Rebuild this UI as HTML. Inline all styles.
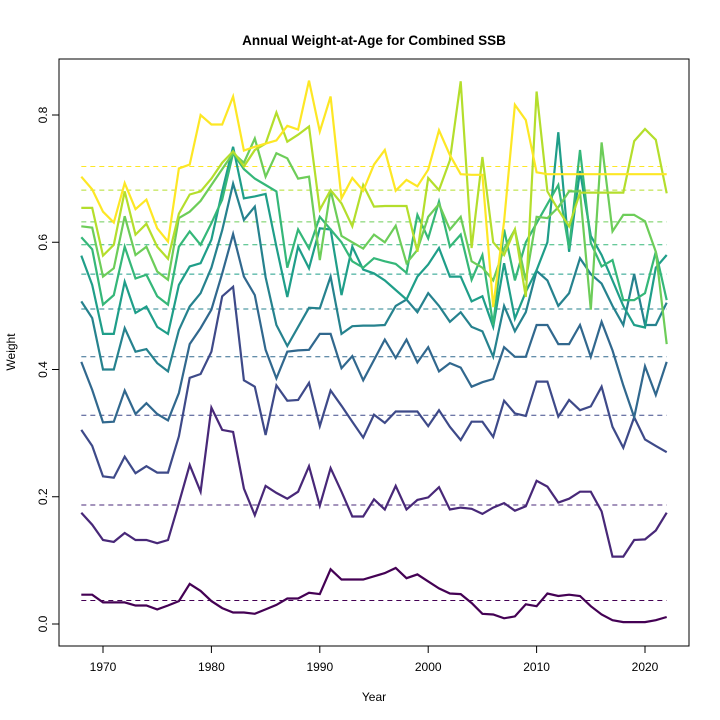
<!DOCTYPE html>
<html><head><meta charset="utf-8">
<style>
html,body{margin:0;padding:0;background:#fff;}
svg{display:block;font-family:"Liberation Sans",Arial,sans-serif;}
</style></head>
<body>
<svg id="chart" width="720" height="720" viewBox="0 0 720 720">
<rect x="0" y="0" width="720" height="720" fill="#fff"/>
<text x="374" y="45" text-anchor="middle" font-size="13.5" font-weight="bold">Annual Weight-at-Age for Combined SSB</text>
<text x="374" y="701" text-anchor="middle" font-size="12">Year</text>
<text transform="translate(15,352) rotate(-90)" text-anchor="middle" font-size="12">Weight</text>
<g id="grid"></g>
<g id="series"></g>
<g id="axes"></g>
<rect x="59" y="59" width="630" height="587" fill="none" stroke="#000" stroke-width="1"/>
</svg>
<script>
const startYear = 1968;
const xTicks = [1970, 1980, 1990, 2000, 2010, 2020];
const yTicks = [0.0, 0.2, 0.4, 0.6, 0.8];
const yTickLabels = ["0.0", "0.2", "0.4", "0.6", "0.8"];
const ageColors = ["#440154","#482878","#3E4A89","#31688E","#26828E","#1F9E89","#35B779","#6DCD59","#B4DE2C","#FDE725"];
const meanValues = [0.037, 0.187, 0.328, 0.420, 0.495, 0.550, 0.596, 0.632, 0.682, 0.719];
const age1 = [.046,.046,.034,.034,.034,.029,.029,.023,.029,.036,.063,.052,.036,.025,.018,.018,.016,.023,.030,.040,.040,.049,.047,.086,.070,.070,.070,.075,.080,.088,.072,.078,.067,.056,.048,.047,.033,.016,.015,.009,.012,.031,.028,.048,.044,.046,.044,.028,.015,.006,.003,.003,.003,.006,.011];
const age2 = [.175,.156,.132,.129,.143,.132,.132,.127,.132,.190,.250,.208,.340,.305,.302,.213,.171,.217,.206,.197,.208,.248,.186,.245,.208,.169,.169,.196,.180,.217,.180,.195,.199,.215,.180,.183,.181,.173,.183,.190,.178,.185,.225,.216,.191,.197,.208,.208,.177,.106,.106,.132,.133,.147,.175];
const age3 = [.305,.280,.232,.230,.263,.237,.248,.238,.238,.295,.387,.393,.428,.515,.530,.383,.373,.297,.375,.351,.352,.379,.311,.367,.343,.318,.293,.329,.316,.334,.334,.334,.311,.336,.310,.289,.318,.318,.294,.351,.331,.327,.381,.381,.326,.352,.336,.342,.373,.310,.277,.325,.290,.280,.270];
const age4 = [.412,.368,.317,.318,.367,.330,.347,.330,.320,.363,.440,.465,.494,.551,.613,.546,.517,.431,.386,.428,.430,.431,.456,.456,.402,.421,.383,.415,.447,.418,.447,.411,.435,.397,.410,.403,.373,.380,.385,.435,.420,.420,.470,.470,.440,.440,.470,.420,.475,.430,.375,.325,.405,.360,.412];
const age5 = [.507,.481,.400,.400,.465,.428,.432,.410,.397,.462,.499,.520,.560,.619,.692,.635,.656,.545,.470,.437,.467,.497,.496,.546,.456,.468,.469,.469,.470,.500,.510,.490,.520,.500,.475,.490,.467,.460,.420,.500,.460,.490,.555,.540,.500,.520,.575,.550,.535,.500,.470,.550,.470,.470,.505];
const age6 = [.579,.533,.456,.456,.538,.489,.499,.467,.456,.533,.562,.567,.604,.680,.750,.669,.672,.676,.593,.514,.593,.559,.622,.620,.517,.593,.557,.551,.540,.525,.510,.546,.565,.591,.546,.546,.507,.515,.467,.567,.480,.522,.556,.600,.773,.585,.712,.610,.580,.540,.500,.470,.466,.560,.580];
const age7 = [.608,.589,.502,.517,.593,.543,.549,.515,.502,.593,.617,.596,.630,.667,.740,.715,.700,.690,.680,.560,.620,.590,.640,.620,.600,.570,.560,.575,.570,.566,.552,.643,.606,.664,.593,.612,.541,.580,.470,.620,.540,.600,.630,.660,.690,.590,.745,.599,.562,.572,.509,.509,.520,.585,.509];
const age8 = [.625,.623,.546,.559,.641,.580,.593,.554,.541,.638,.648,.665,.690,.715,.740,.725,.763,.703,.740,.732,.700,.703,.572,.682,.610,.600,.590,.612,.600,.626,.567,.588,.640,.660,.620,.640,.570,.560,.540,.590,.620,.540,.640,.638,.655,.680,.680,.494,.757,.617,.643,.643,.633,.585,.440];
const age9 = [.654,.654,.579,.596,.680,.612,.629,.593,.574,.645,.675,.680,.700,.725,.743,.719,.745,.755,.804,.758,.769,.782,.651,.682,.661,.625,.690,.656,.657,.657,.657,.585,.701,.682,.729,.853,.591,.734,.600,.580,.620,.514,.837,.680,.651,.625,.678,.678,.678,.678,.678,.759,.778,.761,.677];
const age10 = [.703,.683,.648,.631,.693,.652,.667,.622,.601,.716,.722,.800,.785,.785,.829,.744,.750,.755,.760,.783,.777,.854,.774,.829,.669,.701,.681,.722,.745,.681,.698,.688,.714,.776,.737,.707,.706,.706,.498,.633,.816,.792,.710,.707,.707,.707,.707,.707,.707,.707,.707,.707,.707,.707,.707];
const allSeries = [age1, age2, age3, age4, age5, age6, age7, age8, age9, age10];

const NS = "http://www.w3.org/2000/svg";
function xScale(year){ return 103 + (year - 1970) * (645 - 103) / 50; }
function yScale(v){ return 624 - v * (624 - 115) / 0.8; }
function mk(tag, attrs, parent){ const e = document.createElementNS(NS, tag); for (const k in attrs) e.setAttribute(k, attrs[k]); parent.appendChild(e); return e; }

const grid = document.getElementById('grid');
meanValues.forEach((m, i) => {
  const l = mk('line', {x1: xScale(startYear), x2: xScale(startYear + allSeries[i].length - 1), y1: yScale(m), y2: yScale(m), stroke: ageColors[i], 'stroke-width': 1, 'stroke-dasharray': '5 4'}, grid);
  
  
});

const sg = document.getElementById('series');
allSeries.forEach((s, i) => {
  const pts = s.map((v, j) => xScale(startYear + j).toFixed(1) + ',' + yScale(v).toFixed(1)).join(' ');
  const p = mk('polyline', {points: pts, fill: 'none', stroke: ageColors[i], 'stroke-width': 2.2, 'stroke-linejoin': 'miter'}, sg);
  
  
});

const ax = document.getElementById('axes');
mk('line', {x1: xScale(xTicks[0]), x2: xScale(xTicks[xTicks.length - 1]), y1: 646, y2: 646, stroke: '#000'}, ax);
xTicks.forEach(t => {
  const x = xScale(t);
  mk('line', {x1: x, x2: x, y1: 646, y2: 653, stroke: '#000'}, ax);
  const tx = mk('text', {x: x, y: 671, 'text-anchor': 'middle', 'font-size': 12}, ax);
  tx.textContent = t;
  
  
});
mk('line', {x1: 59, x2: 59, y1: yScale(yTicks[0]), y2: yScale(yTicks[yTicks.length - 1]), stroke: '#000'}, ax);
yTicks.forEach((t, i) => {
  const y = yScale(t);
  mk('line', {x1: 52, x2: 59, y1: y, y2: y, stroke: '#000'}, ax);
  const tx = mk('text', {transform: 'translate(47,' + y + ') rotate(-90)', 'text-anchor': 'middle', 'font-size': 12}, ax);
  tx.textContent = yTickLabels[i];
  
  
});
</script>
</body></html>
